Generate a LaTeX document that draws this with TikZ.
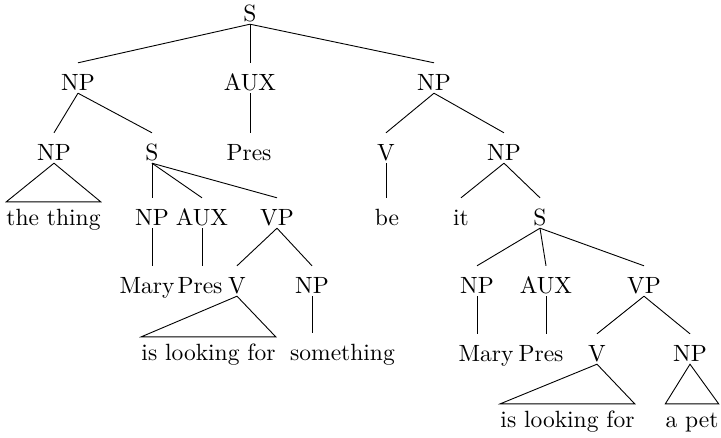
\documentclass[tikz,border=0pt]{standalone}
\usepackage{fontspec}
\setmainfont{lmroman10-regular}[Extension=.otf]
\begin{document}
\begin{tikzpicture}[x=1pt,y=-1pt,
  cat/.style={anchor=base, inner sep=0pt, text height=27pt, text depth=3pt,
              font=\fontsize{23.5}{27}\selectfont},
  leaf/.style={cat, text height=23pt},
  branch/.style={line width=0.9pt},
  roof/.style={line width=0.9pt, line join=miter},
]
\useasboundingbox (0,0) rectangle (721,437);

% --- categories and words, placed on their baselines ---
\node[cat] (s0)   at (250,21)  {S};

\node[cat] (np1)  at (78,90)   {NP};
\node[cat] (aux1) at (250,90)  {AUX};
\node[cat] (np2)  at (434,90)  {NP};

\node[cat] (np3)  at (54,160)  {NP};
\node[cat] (s1)   at (152,160) {S};
\node[cat] (pres1) at (249,160) {Pres};
\node[cat] (v1)   at (386,160) {V};
\node[cat] (np4)  at (504,160) {NP};

\node[leaf] (thing) at (53.5,225) {the thing};
\node[cat] (np5)  at (152,225) {NP};
\node[cat] (aux2) at (202,225) {AUX};
\node[cat] (vp1)  at (277,225) {VP};
\node[cat] (be)   at (387,225) {be};
\node[cat] (it)   at (461,225) {it};
\node[cat] (s2)   at (540,225) {S};

\node[cat] (mary1) at (147,293) {Mary};
\node[cat] (pres2) at (200,293) {Pres};
\node[cat] (v2)   at (237,293) {V};
\node[cat] (np6)  at (312,293) {NP};
\node[cat] (np7)  at (477,293) {NP};
\node[cat] (aux3) at (546,293) {AUX};
\node[cat] (vp2)  at (644,293) {VP};

\node[leaf] (look1) at (208.5,360) {is looking for};
\node[cat] (thing2) at (342.5,360) {something};
\node[cat] (mary2) at (486,361) {Mary};
\node[cat] (pres3) at (541,361) {Pres};
\node[cat] (v3)   at (597,361) {V};
\node[cat] (np8)  at (690,361) {NP};

\node[leaf] (look2) at (567.5,427) {is looking for};
\node[leaf] (pet)   at (692,427)   {a pet};

% --- branches ---
\draw[branch] (s0.south) -- (np1.north);
\draw[branch] (s0.south) -- (aux1.north);
\draw[branch] (s0.south) -- (np2.north);

\draw[branch] (np1.south) -- (np3.north);
\draw[branch] (np1.south) -- (s1.north);
\draw[branch] (aux1.south) -- (aux1.south |- pres1.north);
\draw[branch] (np2.south) -- (v1.north);
\draw[branch] (np2.south) -- (np4.north);

\draw[branch] (s1.south) -- (np5.north);
\draw[branch] (s1.south) -- (aux2.north);
\draw[branch] (s1.south) -- (vp1.north);
\draw[branch] (v1.south) -- (v1.south |- be.north);
\draw[branch] (np4.south) -- (it.north);
\draw[branch] (np4.south) -- (s2.north);

\draw[branch] (np5.south) -- (np5.south |- mary1.north);
\draw[branch] (aux2.south) -- (aux2.south |- pres2.north);
\draw[branch] (vp1.south) -- (v2.north);
\draw[branch] (vp1.south) -- (np6.north);
\draw[branch] (s2.south) -- (np7.north);
\draw[branch] (s2.south) -- (aux3.north);
\draw[branch] (s2.south) -- (vp2.north);

\draw[branch] (np6.south) -- (np6.south |- thing2.north);
\draw[branch] (np7.south) -- (np7.south |- mary2.north);
\draw[branch] (aux3.south) -- (aux3.south |- pres3.north);
\draw[branch] (vp2.south) -- (v3.north);
\draw[branch] (vp2.south) -- (np8.north);

% --- roofs over unanalysed strings ---
\draw[roof] (np3.south) -- (thing.north west) -- (thing.north east) -- cycle;
\draw[roof] (v2.south) -- (look1.north west) -- (look1.north east) -- cycle;
\draw[roof] (v3.south) -- (look2.north west) -- (look2.north east) -- cycle;
\draw[roof] (np8.south) -- (pet.north west) -- (pet.north east) -- cycle;
\end{tikzpicture}
\end{document}
